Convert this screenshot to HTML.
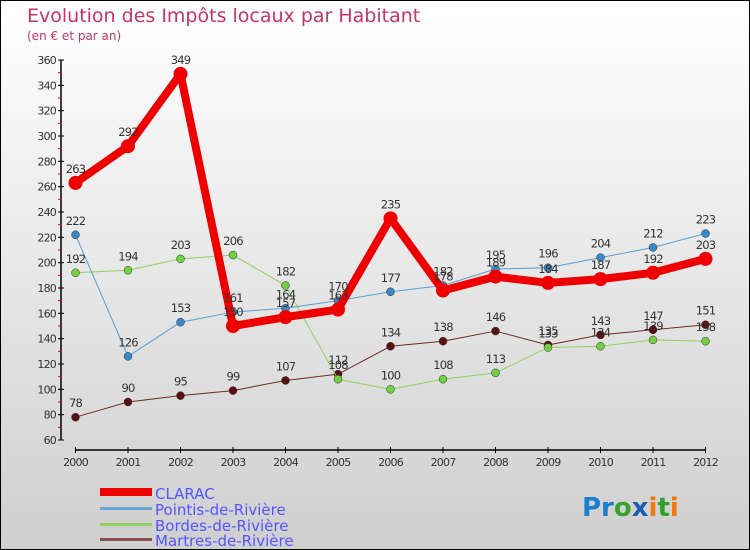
<!DOCTYPE html>
<html><head><meta charset="utf-8"><style>
body{margin:0}
#c{width:750px;height:550px;position:relative;overflow:hidden;font-family:"DejaVu Sans","Liberation Sans",sans-serif}
svg text{font-family:"DejaVu Sans","Liberation Sans",sans-serif}
</style></head><body>
<div id="c">
<svg id="s" width="750" height="550" xmlns="http://www.w3.org/2000/svg">
<defs><linearGradient id="bg" x1="0" y1="0" x2="0" y2="1"><stop offset="0" stop-color="#ffffff"/><stop offset="1" stop-color="#cfcfcf"/></linearGradient></defs>
<rect x="0.5" y="0.5" width="749" height="549" fill="url(#bg)" stroke="#000"/>
<text x="27" y="22" font-size="19" fill="#c8336a">Evolution des Impôts locaux par Habitant</text>
<text x="27" y="40" font-size="12" fill="#c8336a">(en € et par an)</text>
<g id="axes"></g><g id="series"></g><g id="labels"></g>
<g>
<rect x="100" y="488" width="52" height="8" fill="#e00"/>
<text x="155" y="499" font-size="15" fill="#5555ff">CLARAC</text>
<rect x="100" y="507" width="52" height="3" fill="#6aa3d0"/>
<text x="155" y="515" font-size="15" fill="#5555ff">Pointis-de-Rivière</text>
<rect x="100" y="523" width="52" height="3" fill="#90d060"/>
<text x="155" y="531" font-size="15" fill="#5555ff">Bordes-de-Rivière</text>
<rect x="100" y="538" width="52" height="3" fill="#8a5050"/>
<text x="155" y="546" font-size="15" fill="#5555ff">Martres-de-Rivière</text>
</g>
<text x="582" y="516" font-size="26" font-weight="bold"><tspan fill="#1a7fd0">Pr</tspan><tspan fill="#3aa030">o</tspan><tspan fill="#1a5fb0">x</tspan><tspan fill="#f07a10">i</tspan><tspan fill="#30a030">t</tspan><tspan fill="#f07a10">i</tspan></text>
</svg></div>
<script>
const years=[2000,2001,2002,2003,2004,2005,2006,2007,2008,2009,2010,2011,2012];
const yTicks=[60,80,100,120,140,160,180,200,220,240,260,280,300,320,340,360];
const clarac=[263,292,349,150,157,163,235,178,189,184,187,192,203];
const pointis=[222,126,153,161,164,170,177,182,195,196,204,212,223];
const bordes=[192,194,203,206,182,108,100,108,113,133,134,139,138];
const martres=[78,90,95,99,107,112,134,138,146,135,143,147,151];
const NS="http://www.w3.org/2000/svg";
function X(i){return 75.5+i*(705.5-75.5)/(years.length-1);}
function Y(v){return 440-(v-60)*(380/300);}
function el(t,a,p){const e=document.createElementNS(NS,t);for(const k in a)e.setAttribute(k,a[k]);p.appendChild(e);return e;}
const ax=document.getElementById('axes');
let l=el('line',{x1:61,y1:Y(360),x2:61,y2:Y(60),stroke:'#000','stroke-width':1.5},ax);


l=el('line',{x1:75,y1:450,x2:706,y2:450,stroke:'#000','stroke-width':1.5},ax);


yTicks.forEach((v,i)=>{
  el('line',{x1:58,y1:Y(v),x2:64,y2:Y(v),stroke:'#000'},ax);
  if(i<yTicks.length-1)el('line',{x1:58,y1:Y(v+10),x2:61,y2:Y(v+10),stroke:'#e00'},ax);
  const t=el('text',{x:56,y:Y(v)+4,'font-size':11,'text-anchor':'end',fill:'#333','letter-spacing':'-0.8'},ax);
  t.textContent=v;
  
  
});
years.forEach((yr,i)=>{
  el('line',{x1:X(i),y1:447,x2:X(i),y2:453,stroke:'#000'},ax);
  const t=el('text',{x:X(i),y:466,'font-size':11,'text-anchor':'middle',fill:'#333','letter-spacing':'-0.8'},ax);
  t.textContent=yr;
  
  
});
const sg=document.getElementById('series'),lg=document.getElementById('labels');
function draw(data,color,dot,w,r,name){
  const g=el('g',{},sg);
  
  
  const p=el('polyline',{points:data.map((v,i)=>X(i)+','+Y(v)).join(' '),fill:'none',stroke:color,'stroke-width':w,'stroke-linejoin':'round'},g);
  
  
  data.forEach((v,i)=>{
    const c=el('circle',{cx:X(i),cy:Y(v),r:r,fill:dot,stroke:r<5?'#333':'none','stroke-width':0.5},g);
    
    
    const t=el('text',{x:X(i),y:Y(v)-10,'font-size':11.5,'text-anchor':'middle',fill:'#333','letter-spacing':'-0.8'},lg);
    t.textContent=v;
    
    
  });
}
draw(martres,'#6a2a2a','#5a1010',1,4,'martres');
draw(bordes,'#90d060','#70d040',1,4,'bordes');
draw(pointis,'#5a9fd0','#3a88c8',1,4,'pointis');
draw(clarac,'#ee0000','#ee0000',8,7,'clarac');
</script>
</body></html>
